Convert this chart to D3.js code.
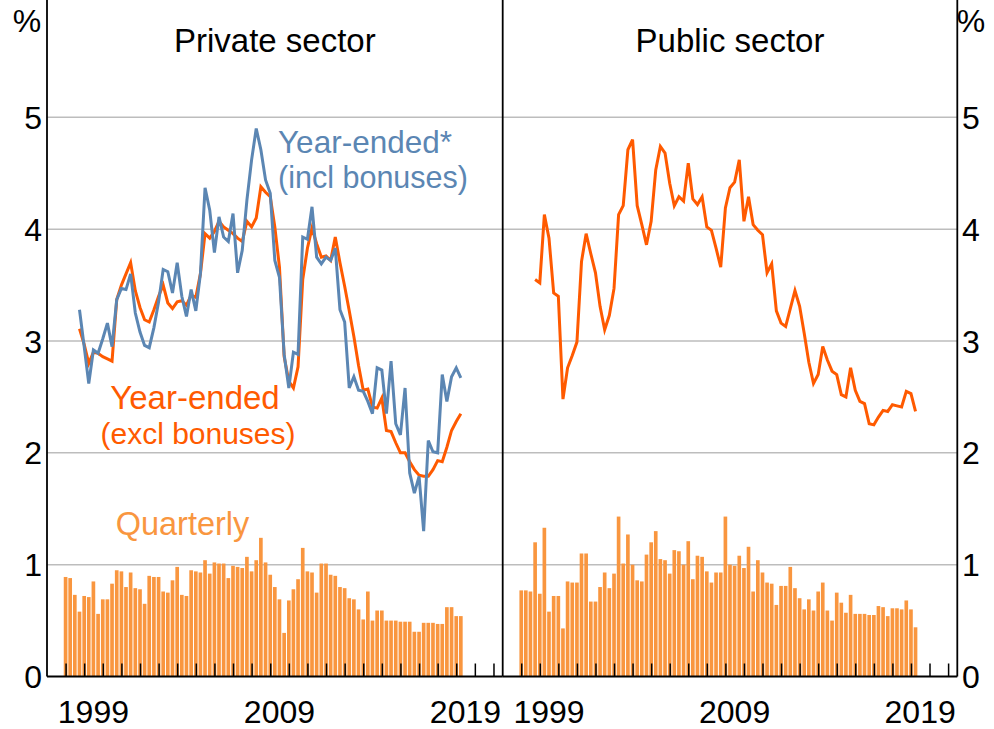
<!DOCTYPE html>
<html>
<head>
<meta charset="utf-8">
<script src="https://cdn.jsdelivr.net/npm/d3@7"></script>
<style>
  html, body { margin: 0; padding: 0; background: #fff; }
  svg { display: block; font-family: "Liberation Sans", Arial, sans-serif; }
</style>
</head>
<body>
<svg id="chart" width="994" height="729"></svg>
<script>
// Wage price index growth, private vs public sector.
// Quarterly bars start Dec qtr 1997; year-ended lines start Sep qtr 1998.

const BAR_START = [1998, 0];     // Dec 1997 quarter, plotted at quarter end
const LINE_START = [1998, 9];    // Sep 1998 quarter end

const privateQuarterly = [
  0.89, 0.88, 0.73, 0.58, 0.72, 0.71, 0.85, 0.56, 0.69, 0.69, 0.83, 0.95, 0.94, 0.80, 0.93, 0.79,
  0.78, 0.65, 0.90, 0.89, 0.89, 0.76, 0.75, 0.86, 0.98, 0.73, 0.72, 0.95, 0.94, 0.93, 1.04, 0.92,
  1.02, 1.01, 1.01, 0.88, 0.99, 0.98, 0.97, 1.07, 0.94, 1.04, 1.24, 1.02, 0.91, 0.80, 0.69, 0.39,
  0.68, 0.78, 0.87, 1.15, 0.94, 0.93, 0.75, 1.01, 1.01, 0.91, 0.90, 0.80, 0.79, 0.70, 0.69, 0.60,
  0.51, 0.76, 0.50, 0.59, 0.59, 0.50, 0.50, 0.50, 0.49, 0.49, 0.49, 0.40, 0.40, 0.48, 0.48, 0.48,
  0.47, 0.47, 0.62, 0.62, 0.54, 0.54
];

const publicQuarterly = [
  0.77, 0.77, 0.76, 1.20, 0.74, 1.33, 0.58, 0.72, 0.72, 0.43, 0.85, 0.84, 0.84, 1.10, 1.10, 0.67,
  0.67, 0.80, 0.93, 0.79, 0.92, 1.43, 1.01, 1.27, 1.00, 0.86, 0.85, 1.09, 1.20, 1.30, 1.05, 1.04,
  0.92, 1.13, 1.12, 1.00, 1.21, 0.87, 1.08, 1.07, 0.94, 0.84, 0.93, 0.93, 1.43, 1.00, 0.99, 1.08,
  0.97, 1.16, 0.76, 1.04, 0.93, 0.84, 0.83, 0.64, 0.81, 0.81, 0.98, 0.79, 0.70, 0.60, 0.69, 0.59,
  0.76, 0.84, 0.59, 0.50, 0.75, 0.66, 0.57, 0.73, 0.56, 0.56, 0.56, 0.55, 0.55, 0.63, 0.62, 0.54,
  0.61, 0.61, 0.60, 0.68, 0.60, 0.44
];

// year-ended, including bonuses (private only)
const privateInclBonuses = [
  3.28, 2.95, 2.62, 2.92, 2.89, 3.02, 3.16, 2.95, 3.37, 3.47, 3.46, 3.60, 3.25, 3.08, 2.96, 2.94,
  3.12, 3.35, 3.64, 3.62, 3.43, 3.70, 3.40, 3.22, 3.46, 3.27, 3.60, 4.37, 4.17, 3.79, 4.11, 3.93,
  3.89, 4.14, 3.61, 3.81, 4.26, 4.62, 4.90, 4.71, 4.44, 4.32, 3.72, 3.57, 2.88, 2.58, 2.90, 2.88,
  3.93, 3.91, 4.20, 3.75, 3.69, 3.75, 3.72, 3.83, 3.28, 3.17, 2.58, 2.68, 2.56, 2.55, 2.46, 2.35,
  2.76, 2.74, 2.35, 2.82, 2.26, 2.16, 2.58, 1.82, 1.64, 1.79, 1.30, 2.11, 2.01, 2.00, 2.70, 2.46,
  2.68, 2.76, 2.67
];

// year-ended, excluding bonuses
const privateExclBonuses = [
  3.11, 2.97, 2.80, 2.90, 2.89, 2.86, 2.84, 2.82, 3.37, 3.50, 3.60, 3.70, 3.45, 3.30, 3.19, 3.17,
  3.28, 3.40, 3.50, 3.34, 3.29, 3.35, 3.36, 3.32, 3.41, 3.39, 3.60, 3.96, 3.92, 3.98, 4.07, 4.02,
  3.99, 3.96, 3.92, 3.89, 4.07, 4.02, 4.10, 4.38, 4.33, 4.29, 4.02, 3.66, 2.86, 2.64, 2.58, 2.77,
  3.55, 3.83, 4.01, 3.87, 3.75, 3.76, 3.72, 3.93, 3.70, 3.49, 3.27, 3.04, 2.78, 2.56, 2.57, 2.41,
  2.40, 2.49, 2.20, 2.19, 2.09, 2.00, 2.00, 1.92, 1.85, 1.80, 1.79, 1.79, 1.85, 1.93, 1.92, 2.05,
  2.20, 2.28, 2.35
];

const publicExclBonuses = [
  3.55, 3.52, 4.13, 3.92, 3.43, 3.40, 2.48, 2.76, 2.87, 2.99, 3.71, 3.96, 3.78, 3.61, 3.31, 3.10,
  3.23, 3.47, 4.13, 4.21, 4.71, 4.80, 4.21, 4.04, 3.86, 4.07, 4.53, 4.74, 4.68, 4.41, 4.21, 4.29,
  4.25, 4.59, 4.27, 4.22, 4.29, 4.02, 3.99, 3.83, 3.66, 4.19, 4.37, 4.42, 4.62, 4.07, 4.29, 4.04,
  3.99, 3.95, 3.61, 3.69, 3.27, 3.16, 3.13, 3.29, 3.45, 3.31, 3.07, 2.81, 2.62, 2.70, 2.95, 2.83,
  2.73, 2.70, 2.52, 2.50, 2.76, 2.56, 2.46, 2.44, 2.26, 2.25, 2.32, 2.38, 2.37, 2.43, 2.42, 2.41,
  2.55, 2.53, 2.37
];

const yTicks = [0, 1, 2, 3, 4, 5];
const yearLabels = [1999, 2009, 2019];

const COLORS = {
  bar: "#F9963F",
  incl: "#5B86B3",
  excl: "#FF5A00",
  grid: "#BDBDBD",
  axis: "#000",
};

// ── layout ──────────────────────────────────────────────────────────────

const svg = d3.select("#chart");
const FONT = 32;
const plotBottom = 676.5, plotTop = 5.5, frameTop = 0;
const panels = [
  { x0: 47, x1: 502.7, title: "Private sector", bars: privateQuarterly,
    lines: [{ data: privateExclBonuses, color: COLORS.excl }, { data: privateInclBonuses, color: COLORS.incl }] },
  { x0: 502.7, x1: 957.3, title: "Public sector", bars: publicQuarterly,
    lines: [{ data: publicExclBonuses, color: COLORS.excl }] },
];

const y = d3.scaleLinear().domain([0, 6]).range([plotBottom, plotTop]);

function qDate(start, i) {
  return d3.timeMonth.offset(new Date(start[0], start[1], 1), 3 * i);
}

function drawPanel(p) {
  const x = d3.scaleTime()
    .domain([new Date(1997, 0, 1), new Date(2021, 6, 1)])
    .range([p.x0, p.x1]);
  const g = svg.append("g");

  // gridlines
  g.selectAll("line.grid").data(yTicks.filter(d => d > 0)).join("line")
    .attr("x1", p.x0).attr("x2", p.x1)
    .attr("y1", d => y(d)).attr("y2", d => y(d))
    .attr("stroke", COLORS.grid).attr("stroke-width", 1.5);

  // quarterly bars
  const step = x(new Date(1998, 3, 1)) - x(new Date(1998, 0, 1));
  const bw = step * 0.8;
  g.selectAll("rect.bar").data(p.bars).join("rect")
    .attr("x", (d, i) => x(qDate(BAR_START, i)) - bw / 2)
    .attr("width", bw)
    .attr("y", d => y(d))
    .attr("height", d => y(0) - y(d))
    .attr("fill", COLORS.bar);

  // year-ended lines
  const line = d3.line()
    .x((d, i) => x(qDate(LINE_START, i)))
    .y(d => y(d));
  for (const s of p.lines) {
    g.append("path").datum(s.data)
      .attr("d", line)
      .attr("fill", "none")
      .attr("stroke", s.color)
      .attr("stroke-width", 3)
      .attr("stroke-linejoin", "miter");
  }

  // x axis: inward ticks at each year boundary
  const xAxis = d3.axisBottom(x)
    .tickValues(d3.timeYear.range(new Date(1998, 0, 1), new Date(2021, 1, 1)))
    .tickSize(-13).tickFormat("");
  const ax = g.append("g").attr("transform", `translate(0,${plotBottom})`).call(xAxis);
  ax.select(".domain").remove();
  ax.selectAll(".tick line").attr("stroke", COLORS.axis).attr("stroke-width", 1.5);

  g.append("line")
    .attr("x1", p.x0).attr("x2", p.x1).attr("y1", plotBottom).attr("y2", plotBottom)
    .attr("stroke", COLORS.axis).attr("stroke-width", 2);

  g.selectAll("text.year").data(yearLabels).join("text")
    .attr("x", d => x(new Date(d, 6, 1)))
    .attr("y", 723)
    .attr("text-anchor", "middle")
    .attr("font-size", FONT)
    .text(d => d);

  g.append("text")
    .attr("x", (p.x0 + p.x1) / 2).attr("y", 52)
    .attr("text-anchor", "middle").attr("font-size", 33)
    .text(p.title);
}

panels.forEach(drawPanel);

// vertical frame lines (left axis, panel divider, right axis)
svg.selectAll("line.frame").data([47, 502.7, 957.3]).join("line")
  .attr("x1", d => d).attr("x2", d => d).attr("y1", frameTop).attr("y2", plotBottom)
  .attr("stroke", COLORS.axis).attr("stroke-width", 1.8);

// y labels both sides
const yl = svg.append("g").attr("font-size", FONT);
yl.selectAll("text.l").data(yTicks).join("text")
  .attr("x", 42).attr("y", d => y(d) + 11.5).attr("text-anchor", "end").text(d => d);
yl.selectAll("text.r").data(yTicks).join("text")
  .attr("x", 962).attr("y", d => y(d) + 11.5).attr("text-anchor", "start").text(d => d);
yl.append("text").attr("x", 27).attr("y", 32).attr("text-anchor", "middle").text("%");
yl.append("text").attr("x", 971).attr("y", 32).attr("text-anchor", "middle").text("%");

// series annotations
const notes = [
  { x: 365, y: 153, size: 31.5, text: "Year-ended*", color: COLORS.incl },
  { x: 373, y: 188, size: 30.5, text: "(incl bonuses)", color: COLORS.incl },
  { x: 195, y: 409, size: 33, text: "Year-ended", color: COLORS.excl },
  { x: 198, y: 444, size: 30, text: "(excl bonuses)", color: COLORS.excl },
  { x: 182.5, y: 535, size: 32.5, text: "Quarterly", color: COLORS.bar },
];
svg.append("g").selectAll("text").data(notes).join("text")
  .attr("x", d => d.x).attr("y", d => d.y)
  .attr("font-size", d => d.size)
  .attr("text-anchor", "middle")
  .attr("fill", d => d.color)
  .text(d => d.text);
</script>
</body>
</html>
